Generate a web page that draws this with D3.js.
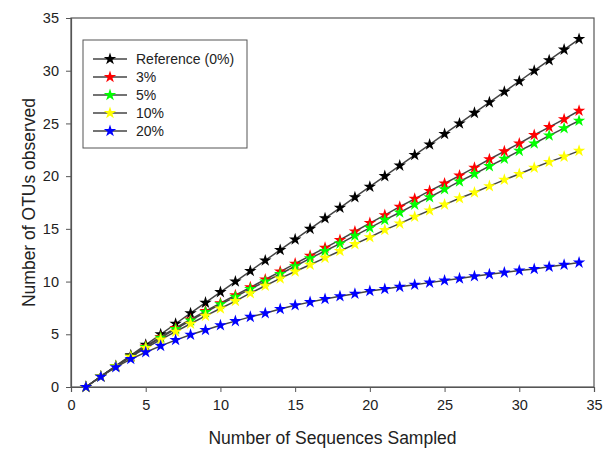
<!DOCTYPE html>
<html>
<head>
<meta charset="utf-8">
<script src="https://cdn.jsdelivr.net/npm/d3@7"></script>
<style>
  html, body { margin: 0; padding: 0; background: #fff; }
  svg text { font-family: "Liberation Sans", Arial, sans-serif; fill: #222; }
</style>
</head>
<body>
<svg id="chart" width="607" height="450"></svg>
<script>
// Sequences sampled (x) and OTUs observed for each error rate
const sequences = d3.range(1, 35);
const reference0 = [0,1,2,3,4,5,6,7,8,9,10,11,12,13,14,15,16,17,18,19,20,21,22,23,24,25,26,27,28,29,30,31,32,33];
const err3 = [0,1,1.97,2.92,3.85,4.75,5.6,6.4,7.2,7.95,8.7,9.45,10.2,10.95,11.7,12.45,13.2,13.95,14.75,15.55,16.3,17.1,17.85,18.6,19.3,20.05,20.8,21.6,22.35,23.1,23.9,24.65,25.4,26.2];
const err5 = [0,1,1.96,2.9,3.8,4.68,5.5,6.3,7.1,7.85,8.55,9.3,10.0,10.72,11.45,12.2,12.9,13.6,14.35,15.1,15.85,16.55,17.3,18.0,18.75,19.5,20.2,20.95,21.65,22.4,23.1,23.85,24.55,25.25];
const err10 = [0,1,1.95,2.85,3.7,4.5,5.25,6.0,6.75,7.45,8.15,8.9,9.6,10.3,10.95,11.6,12.25,12.9,13.55,14.2,14.9,15.5,16.15,16.75,17.3,17.9,18.45,19.05,19.65,20.2,20.8,21.35,21.85,22.4];
const err20 = [0,0.98,1.88,2.65,3.3,3.9,4.45,4.95,5.4,5.85,6.25,6.65,7.0,7.4,7.75,8.05,8.35,8.6,8.85,9.1,9.3,9.5,9.7,9.9,10.1,10.3,10.5,10.7,10.85,11.05,11.2,11.4,11.6,11.8];

const seriesNames = ["Reference (0%)", "3%", "5%", "10%", "20%"];
const seriesValues = [reference0, err3, err5, err10, err20];
const seriesColors = ["#000000", "#ff0000", "#00ff00", "#ffff00", "#0000ff"];

const xTicks = [0, 5, 10, 15, 20, 25, 30, 35];
const yTicks = [0, 5, 10, 15, 20, 25, 30, 35];

const xLabel = "Number of Sequences Sampled";
const yLabel = "Number of OTUs observed";

const svg = d3.select("#chart");
const margin = { left: 71, right: 13, top: 18, bottom: 63 };
const W = 607, H = 450;

const x = d3.scaleLinear().domain([0, 35]).range([margin.left, W - margin.right]);
const y = d3.scaleLinear().domain([0, 35]).range([H - margin.bottom, margin.top]);

const axisColor = "#555";

// plot frame
svg.append("rect")
  .attr("x", x(0)).attr("y", y(35))
  .attr("width", x(35) - x(0)).attr("height", y(0) - y(35))
  .attr("fill", "none").attr("stroke", axisColor).attr("stroke-width", 1.2);

const gx = svg.append("g")
  .attr("transform", `translate(0,${y(0)})`)
  .call(d3.axisBottom(x).tickValues(xTicks).tickSize(5).tickPadding(8).tickFormat(d3.format("d")));
const gy = svg.append("g")
  .attr("transform", `translate(${x(0)},0)`)
  .call(d3.axisLeft(y).tickValues(yTicks).tickSize(5).tickPadding(7).tickFormat(d3.format("d")));

[gx, gy].forEach(g => {
  g.select(".domain").attr("stroke", axisColor).attr("stroke-width", 1.2);
  g.selectAll(".tick line").attr("stroke", axisColor).attr("stroke-width", 1);
  g.selectAll(".tick text").attr("font-size", 14.5).attr("fill", "#222")
    .attr("font-family", "'Liberation Sans', Arial, sans-serif");
});

// axis titles
svg.append("text")
  .attr("x", (x(0) + x(35)) / 2).attr("y", 444)
  .attr("text-anchor", "middle").attr("font-size", 17.5)
  .text(xLabel);
svg.append("text")
  .attr("transform", `translate(35,${(y(0) + y(35)) / 2}) rotate(-90)`)
  .attr("text-anchor", "middle").attr("font-size", 17.5)
  .text(yLabel);

// curves with star markers
const line = d3.line().x((d, i) => x(sequences[i])).y(d => y(d));
const star = d3.symbol().type(d3.symbolStar).size(48);

seriesValues.forEach((vals, k) => {
  const g = svg.append("g");
  g.append("path").datum(vals)
    .attr("d", line).attr("fill", "none")
    .attr("stroke", "#444").attr("stroke-width", 1.5);
  g.selectAll("path.pt").data(vals).enter().append("path")
    .attr("class", "pt")
    .attr("d", star)
    .attr("transform", (d, i) => `translate(${x(sequences[i])},${y(d)})`)
    .attr("fill", seriesColors[k]);
});

// legend
const lg = svg.append("g");
lg.append("rect")
  .attr("x", 83).attr("y", 40).attr("width", 164).attr("height", 108)
  .attr("fill", "#fff").attr("stroke", axisColor).attr("stroke-width", 1);
seriesNames.forEach((name, k) => {
  const cy = 59 + k * 18;
  lg.append("line").attr("x1", 93).attr("x2", 127).attr("y1", cy).attr("y2", cy)
    .attr("stroke", "#444").attr("stroke-width", 1.5);
  lg.append("path").attr("d", star)
    .attr("transform", `translate(110,${cy})`).attr("fill", seriesColors[k]);
  lg.append("text").attr("x", 136).attr("y", cy + 5)
    .attr("font-size", 14).text(name);
});
</script>
</body>
</html>
